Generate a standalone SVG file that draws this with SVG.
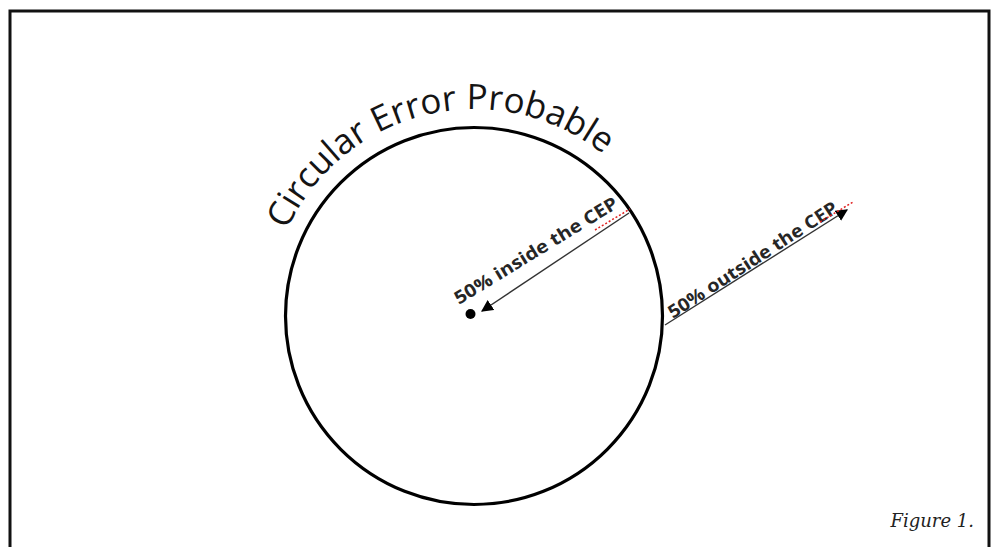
<svg xmlns="http://www.w3.org/2000/svg" width="994" height="547" viewBox="0 0 994 547">
  <style>
    .frame { fill: none; stroke: #111; stroke-width: 3; }
    .ring { fill: none; stroke: #000; stroke-width: 3.2; }
    .arrow { stroke: #333; stroke-width: 1.4; fill: none; }
    .lbl { font-family: "Open Sans", "Liberation Sans", sans-serif; font-weight: bold; font-size: 18px; fill: #262626; }
    .title { font-family: "Open Sans", "Liberation Sans", sans-serif; font-size: 35px; fill: #141414; }
    .cap { font-family: "DejaVu Serif", "Liberation Serif", serif; font-style: italic; font-size: 18px; fill: #222; }
    .spell { fill: none; stroke: #e02020; stroke-width: 1.5; stroke-dasharray: 2 2; }
  </style>
  <defs>
    <marker id="ah2" viewBox="0 0 10 10" refX="9" refY="5" markerWidth="12" markerHeight="12" markerUnits="userSpaceOnUse" orient="auto">
      <path d="M0,0 L10,5 L0,10 z" fill="#000"/>
    </marker>
    <path id="titlePath" d="M 287,230 A 206,206 0 0 1 680,300"/>
  </defs>

  <rect width="994" height="547" fill="#fff"/>

  <g id="frame">
    <path class="frame" d="M 10,547 L 10,11 L 989,11 L 989,547"/>
  </g>

  <g id="cep-circle">
    <circle class="ring" cx="474" cy="316" r="188.5"/>
    <text class="title"><textPath href="#titlePath">Circular Error Probable</textPath></text>
  </g>

  <g id="center-point">
    <circle cx="470.5" cy="314" r="5" fill="#000"/>
  </g>

  <g id="connectors">
    <line id="inside-arrow" class="arrow" x1="629" y1="213" x2="482" y2="311" marker-end="url(#ah2)"/>
    <line id="outside-arrow" class="arrow" x1="665" y1="325" x2="847" y2="210" marker-end="url(#ah2)"/>
  </g>

  <g id="inside-label">
    <text class="lbl" transform="translate(459,305) rotate(-31.5)" textLength="188" lengthAdjust="spacingAndGlyphs">50% inside the CEP</text>
    <path class="spell" d="M 595,230 L 630,209"/>
  </g>

  <g id="outside-label">
    <text class="lbl" transform="translate(673,319) rotate(-33)" textLength="198" lengthAdjust="spacingAndGlyphs">50% outside the CEP</text>
    <path class="spell" d="M 820,222 L 853,202"/>
  </g>

  <g id="caption">
    <text class="cap" x="974" y="527" text-anchor="end">Figure 1.</text>
  </g>
</svg>
